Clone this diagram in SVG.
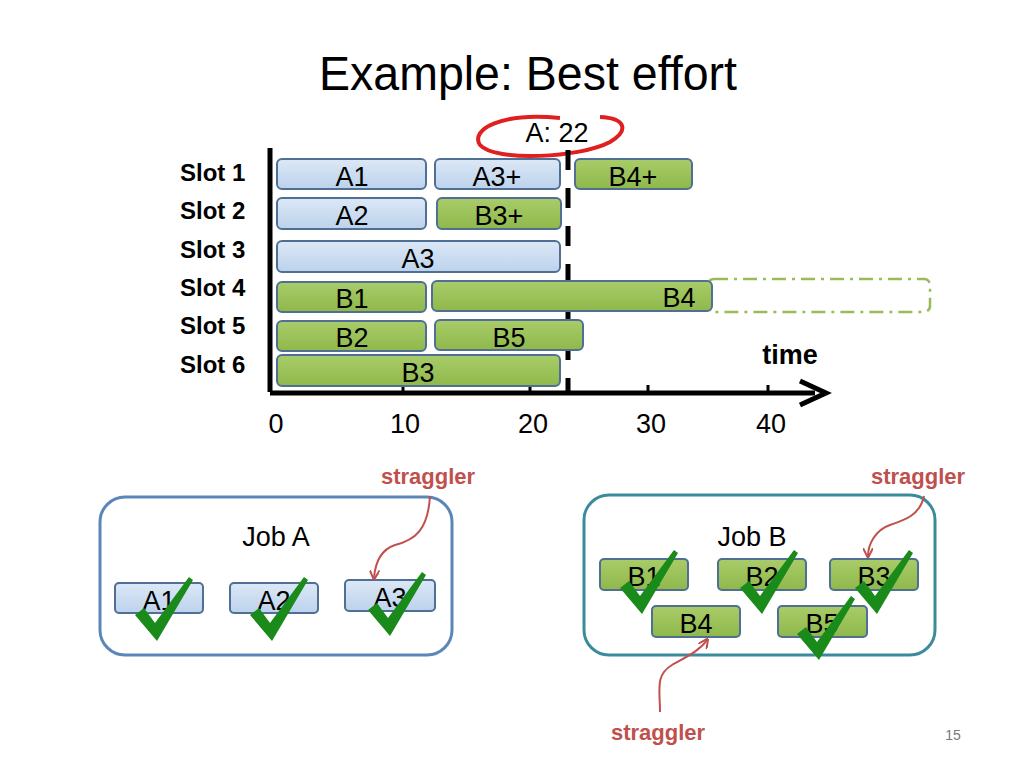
<svg xmlns="http://www.w3.org/2000/svg" xmlns:xlink="http://www.w3.org/1999/xlink" width="1024" height="768" viewBox="0 0 1024 768">
<defs>
<linearGradient id="gb" x1="0" y1="0" x2="0" y2="1"><stop offset="0" stop-color="#dce8f6"/><stop offset="1" stop-color="#bcd2ec"/></linearGradient>
<linearGradient id="gg" x1="0" y1="0" x2="0" y2="1"><stop offset="0" stop-color="#a9cc6a"/><stop offset="1" stop-color="#8fb84a"/></linearGradient>
<marker id="ar" viewBox="0 0 10 10" refX="8" refY="5" markerWidth="5" markerHeight="5" orient="auto"><path d="M0,0 L10,5 L0,10" fill="none" stroke="#c0504d" stroke-width="2"/></marker>
<path id="chk" d="M0,38 L9,31 L20,46 L54,0 L58,3 L22,64 Z" fill="#1a8a1a"/>
</defs>
<style>
.b{fill:url(#gb);stroke:#4f6f95;stroke-width:2}
.g{fill:url(#gg);stroke:#4f6f95;stroke-width:2}
.t{font-family:"Liberation Sans",Arial,sans-serif;font-size:27px;fill:#000;text-anchor:middle}
.s{font-family:"Liberation Sans",Arial,sans-serif;font-size:24px;font-weight:bold;fill:#000}
.st{font-family:"Liberation Sans",Arial,sans-serif;font-size:22px;font-weight:bold;fill:#c0504d;text-anchor:middle}
.cv{fill:none;stroke:#c0504d;stroke-width:2}
</style>
<rect width="1024" height="768" fill="#fff"/>
<text x="528" y="90" text-anchor="middle" font-family="Liberation Sans,Arial,sans-serif" font-size="48" textLength="418" lengthAdjust="spacingAndGlyphs">Example: Best effort</text>
<text x="557" y="142" class="t">A: 22</text>
<path d="M560,118 C500,112 470,130 480,145 C495,162 580,158 610,142 C630,130 625,118 600,117" fill="none" stroke="#e02020" stroke-width="4"/>
<g class="s"><text x="180" y="181">Slot 1</text><text x="180" y="219">Slot 2</text><text x="180" y="258">Slot 3</text><text x="180" y="296">Slot 4</text><text x="180" y="334">Slot 5</text><text x="180" y="373">Slot 6</text></g>
<g id="axes">
<line x1="270" y1="148" x2="270" y2="392" stroke="#000" stroke-width="5"/>
<line x1="270" y1="393" x2="815" y2="393" stroke="#000" stroke-width="5"/>
<path d="M800,381 L826,393 L800,405" fill="none" stroke="#000" stroke-width="5"/>
<g stroke="#000" stroke-width="3"><line x1="403" y1="385" x2="403" y2="393"/><line x1="530" y1="385" x2="530" y2="393"/><line x1="648" y1="385" x2="648" y2="393"/><line x1="768" y1="385" x2="768" y2="393"/></g>
<line x1="568" y1="150" x2="568" y2="392" stroke="#000" stroke-width="5" stroke-dasharray="20,18"/>
<g class="t"><text x="276" y="433">0</text><text x="405" y="433">10</text><text x="533" y="433">20</text><text x="651" y="433">30</text><text x="771" y="433">40</text></g>
<text x="790" y="364" class="t" font-weight="bold" font-size="26">time</text>
</g>
<g id="bars">
<rect class="b" x="277" y="159" width="149" height="30" rx="5"/><text class="t" x="352" y="186">A1</text>
<rect class="b" x="435" y="159" width="125" height="30" rx="5"/><text class="t" x="497" y="186">A3+</text>
<rect class="g" x="575" y="159" width="117" height="30" rx="5"/><text class="t" x="633" y="186">B4+</text>
<rect class="b" x="277" y="198" width="149" height="31" rx="5"/><text class="t" x="352" y="225">A2</text>
<rect class="g" x="437" y="198" width="124" height="31" rx="5"/><text class="t" x="499" y="225">B3+</text>
<rect class="b" x="277" y="241" width="283" height="31" rx="5"/><text class="t" x="418" y="268">A3</text>
<rect class="g" x="277" y="282" width="149" height="30" rx="5"/><text class="t" x="352" y="308">B1</text>
<rect x="708" y="279" width="222" height="33" rx="6" fill="none" stroke="#9bbb59" stroke-width="2.5" stroke-dasharray="14,6,3,6"/>
<rect class="g" x="432" y="281" width="280" height="30" rx="5"/><text class="t" x="679" y="307">B4</text>
<rect class="g" x="277" y="321" width="149" height="30" rx="5"/><text class="t" x="352" y="347">B2</text>
<rect class="g" x="435" y="320" width="148" height="30" rx="5"/><text class="t" x="509" y="347">B5</text>
<rect class="g" x="277" y="355" width="283" height="31" rx="5"/><text class="t" x="418" y="382">B3</text>
</g>
<g id="jobA">
<rect x="100" y="497" width="352" height="158" rx="25" fill="#fff" stroke="#5b86b8" stroke-width="3"/>
<text x="276" y="546" class="t" font-size="40">Job A</text>
<rect class="b" x="115" y="583" width="88" height="30" rx="4"/><text class="t" x="159" y="610">A1</text>
<rect class="b" x="230" y="583" width="88" height="30" rx="4"/><text class="t" x="274" y="610">A2</text>
<rect class="b" x="345" y="580" width="90" height="31" rx="4"/><text class="t" x="390" y="607">A3</text>
<use xlink:href="#chk" x="135" y="577"/><use xlink:href="#chk" x="250" y="577"/><use xlink:href="#chk" x="368" y="572"/>
</g>
<g id="jobB">
<rect x="584" y="495" width="351" height="160" rx="25" fill="#fff" stroke="#3c8b9c" stroke-width="3"/>
<text x="752" y="546" class="t" font-size="40">Job B</text>
<rect class="g" x="600" y="559" width="88" height="31" rx="4"/><text class="t" x="644" y="586">B1</text>
<rect class="g" x="718" y="559" width="88" height="31" rx="4"/><text class="t" x="762" y="586">B2</text>
<rect class="g" x="830" y="559" width="88" height="31" rx="4"/><text class="t" x="874" y="586">B3</text>
<rect class="g" x="652" y="606" width="88" height="31" rx="4"/><text class="t" x="696" y="633">B4</text>
<rect class="g" x="778" y="606" width="89" height="31" rx="4"/><text class="t" x="822" y="633">B5</text>
<use xlink:href="#chk" x="620" y="550"/><use xlink:href="#chk" x="740" y="550"/><use xlink:href="#chk" x="855" y="550"/><use xlink:href="#chk" x="797" y="596"/>
</g>
<g id="connectors">
<path class="cv" d="M430,496 C428,530 415,540 395,545 C380,550 375,565 374,578" marker-end="url(#ar)"/>
<path class="cv" d="M924,496 C920,515 905,520 890,525 C875,530 868,545 868,556" marker-end="url(#ar)"/>
<path class="cv" d="M660,712 C660,690 655,675 672,665 C690,655 700,650 707,640" marker-end="url(#ar)"/>
</g>
<text x="428" y="484" class="st">straggler</text>
<text x="918" y="484" class="st">straggler</text>
<text x="658" y="740" class="st">straggler</text>
<text x="953" y="740" text-anchor="middle" font-family="Liberation Sans,Arial,sans-serif" font-size="14" fill="#777">15</text>
</svg>
